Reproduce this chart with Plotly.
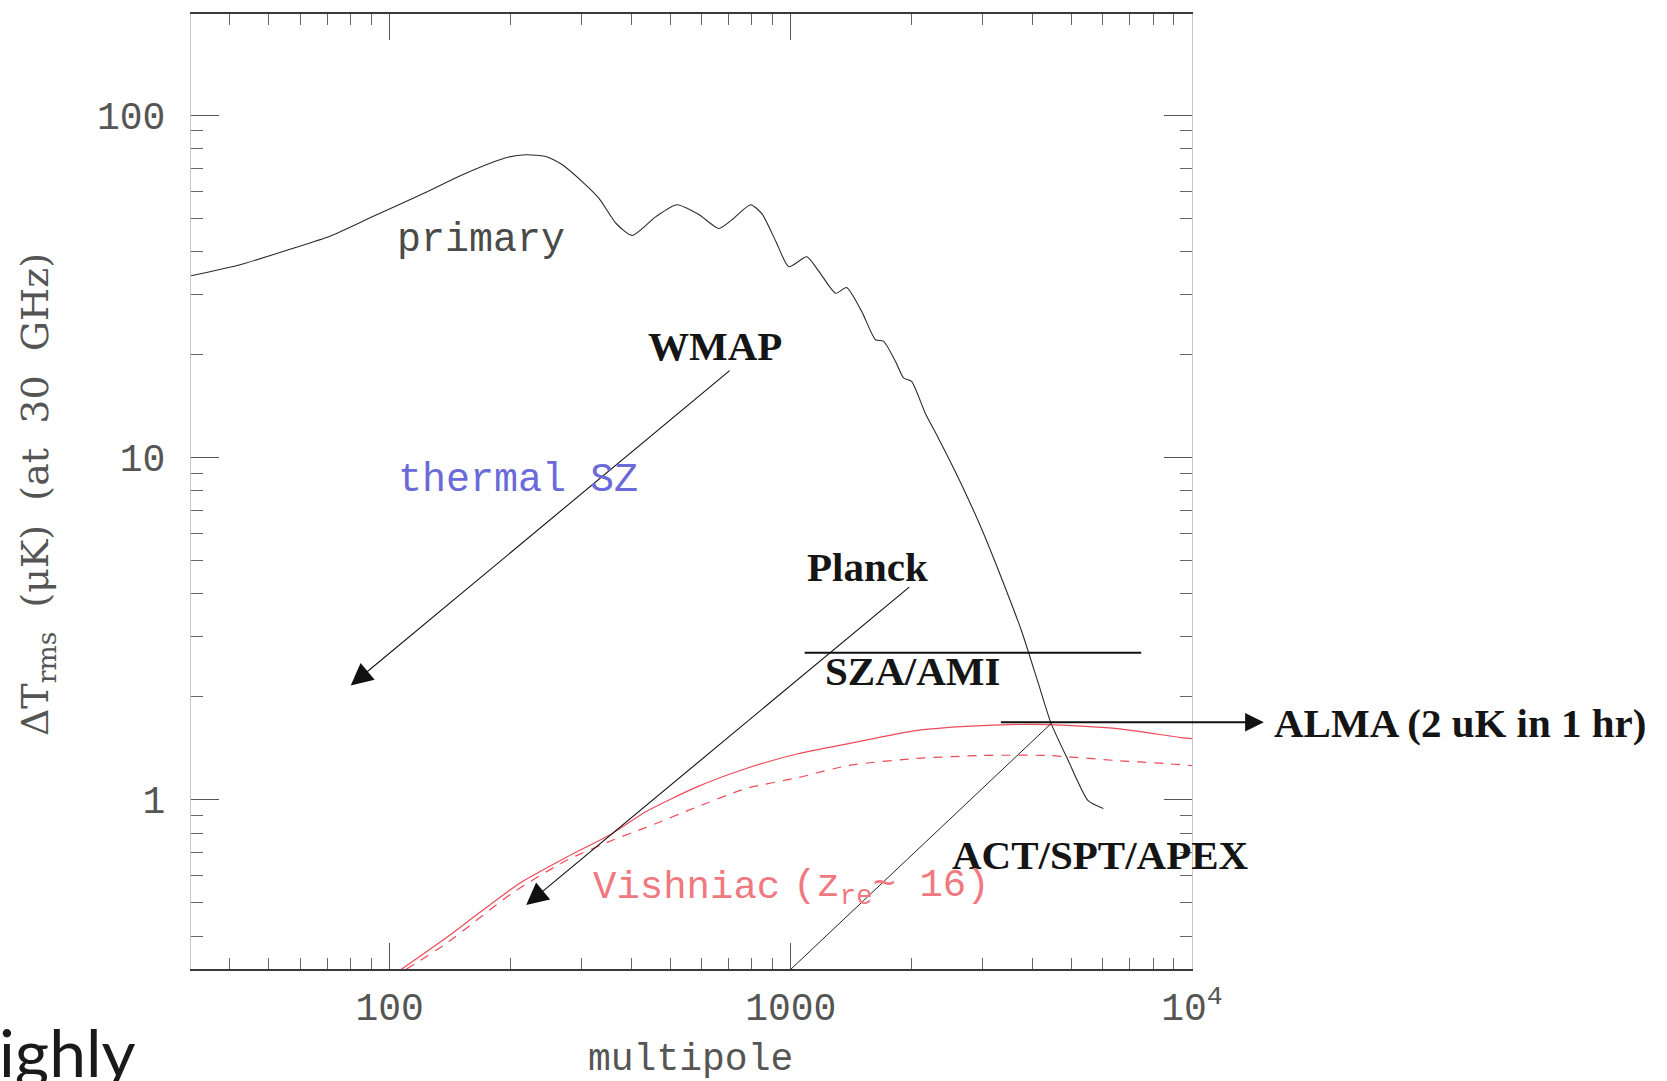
import numpy as np
import plotly.graph_objects as go

# ---------------- data ----------------
# primary CMB anisotropy (multipole, Delta T in uK)
primary_ell = [32, 42.4, 56.4, 71.0, 90.8, 121, 152, 195, 219, 246, 269, 302, 333, 367, 402,
               461, 520, 590, 662, 713, 794, 847, 918, 989, 1096, 1175, 1294, 1377, 1503, 1626,
               1702, 1824, 1910, 2000, 2168, 2333, 2618, 2985, 3350, 3758, 4140, 4457, 4920, 5508, 6012]
primary_T = [34.0, 36.6, 40.6, 44.3, 50.6, 59.0, 67.1, 75.2, 76.7, 75.7, 71.8, 64.0, 57.1, 48.3, 44.6,
             50.6, 54.8, 51.3, 46.7, 49.5, 54.8, 51.6, 42.8, 36.1, 38.6, 35.0, 30.2, 31.4, 26.7, 22.1,
             21.9, 19.1, 17.1, 16.7, 13.4, 11.4, 8.71, 6.22, 4.45, 3.12, 2.19, 1.67, 1.30, 0.995, 0.944]

# Vishniac effect (z_re ~ 16), solid and dashed
vish_ell = [107, 139, 167, 211, 276, 359, 436, 580, 774, 1047, 1394, 2045, 2987, 4385, 6430, 9397, 10000]
vish_T = [0.32, 0.397, 0.467, 0.571, 0.680, 0.798, 0.925, 1.088, 1.235, 1.366, 1.461, 1.594, 1.649, 1.66,
          1.617, 1.521, 1.51]
vish2_ell = [110, 139, 202, 276, 359, 436, 580, 774, 1047, 1394, 2045, 2987, 4385, 6430, 8570, 10000]
vish2_T = [0.32, 0.382, 0.534, 0.666, 0.762, 0.831, 0.951, 1.080, 1.163, 1.261, 1.321, 1.348, 1.348,
           1.304, 1.277, 1.26]

# experiment sensitivity lines / arrows (multipole, uK)
sza_ell = [1083, 7470]
sza_T = [2.69, 2.69]
act_ell = [1000, 4490]
act_T = [0.32, 1.686]
wmap_arrow_ell = [710, 80]      # tail, head
wmap_arrow_T = [18.1, 2.16]
planck_arrow_ell = [1990, 219]
planck_arrow_T = [4.22, 0.493]
alma_arrow_ell = [3310, 15100]
alma_arrow_T = [1.686, 1.686]

x_major = [100, 1000, 10000]
x_major_text = ["100", "1000", "10<sup>4</sup>"]
x_minor = [40, 50, 60, 70, 80, 90, 200, 300, 400, 500, 600, 700, 800, 900,
           2000, 3000, 4000, 5000, 6000, 7000, 8000, 9000]
y_major = [1, 10, 100]
y_major_text = ["1", "10", "100"]
y_minor = [0.4, 0.5, 0.6, 0.7, 0.8, 0.9, 2, 3, 4, 5, 6, 7, 8, 9,
           20, 30, 40, 50, 60, 70, 80, 90, 200]

lg = np.log10

fig = go.Figure()
fig.add_trace(go.Scatter(x=primary_ell, y=primary_T, mode="lines",
                         line=dict(color="#2a2a2a", width=1.1, shape="spline", smoothing=0.6),
                         showlegend=False))
fig.add_trace(go.Scatter(x=vish_ell, y=vish_T, mode="lines",
                         line=dict(color="#ec4a5a", width=1.2, shape="spline", smoothing=0.6),
                         showlegend=False))
fig.add_trace(go.Scatter(x=vish2_ell, y=vish2_T, mode="lines",
                         line=dict(color="#ec4a5a", width=1.2, dash="9px,8px", shape="spline", smoothing=0.6),
                         showlegend=False))
fig.add_trace(go.Scatter(x=sza_ell, y=sza_T, mode="lines",
                         line=dict(color="#111111", width=2), showlegend=False))
fig.add_trace(go.Scatter(x=act_ell, y=act_T, mode="lines",
                         line=dict(color="#222222", width=1), showlegend=False))

annotations = []


def arrow(ells, Ts, width, size):
    annotations.append(dict(
        x=lg(ells[1]), y=lg(Ts[1]), ax=lg(ells[0]), ay=lg(Ts[0]),
        xref="x", yref="y", axref="x", ayref="y", text="", showarrow=True,
        arrowhead=2, arrowsize=size, arrowwidth=width, arrowcolor="#111111", standoff=0))


arrow(wmap_arrow_ell, wmap_arrow_T, 1.1, 4.0)
arrow(planck_arrow_ell, planck_arrow_T, 1.1, 4.0)
arrow(alma_arrow_ell, alma_arrow_T, 2.2, 1.7)

bold = dict(family="Liberation Serif", size=41, color="#151515")
hersh = dict(family="Liberation Mono", size=40)


def label(text, ell, T, font, xanchor="center"):
    annotations.append(dict(x=lg(ell), y=lg(T), xref="x", yref="y", text=text, showarrow=False,
                            font=font, xanchor=xanchor, yanchor="middle"))


label("<b>WMAP</b>", 10 ** 2.811, 10 ** 1.325, bold)
label("<b>Planck</b>", 10 ** 3.192, 10 ** 0.681, bold)
label("<b>SZA/AMI</b>", 10 ** 3.303, 10 ** 0.378, bold)
label("<b>ACT/SPT/APEX</b>", 10 ** 3.771, 10 ** -0.162, bold)
label("primary", 10 ** 2.229, 10 ** 1.635, dict(hersh, color="#4a4a4a"))
label("thermal SZ", 10 ** 2.321, 10 ** 0.934, dict(hersh, color="#6a6ad8"))
label("Vishniac", 10 ** 2.502, 10 ** -0.258, dict(hersh, size=39, color="#f07880"), xanchor="left")
label("(z<sub>re</sub>~ 16)", 10 ** 3.0, 10 ** -0.258, dict(hersh, size=39, color="#f07880"), xanchor="left")

# ALMA label sits right of the plot area
annotations.append(dict(x=1.080, y=0.258, xref="paper", yref="paper", text="<b>ALMA (2 uK in 1 hr)</b>",
                        showarrow=False, font=bold, xanchor="left", yanchor="middle"))

# axis titles
annotations.append(dict(x=0.4995, y=-0.0951, xref="paper", yref="paper", text="multipole",
                        showarrow=False, font=dict(family="Liberation Mono", size=38, color="#555555"),
                        xanchor="center", yanchor="middle"))
annotations.append(dict(x=-0.1538, y=0.4963, xref="paper", yref="paper",
                        text="\u0394T<sub>rms</sub>\u00a0 (\u03bcK)\u00a0 (at\u00a0 30\u00a0 GHz)",
                        textangle=-90, showarrow=False,
                        font=dict(family="DejaVu Serif", size=38, color="#555555"),
                        xanchor="center", yanchor="middle"))
# slide text fragment at the bottom left
annotations.append(dict(x=-0.1935, y=-0.043, xref="paper", yref="paper", text="ighly",
                        showarrow=False, font=dict(family="Lato", size=66, color="#1a1a1a"),
                        xanchor="left", yanchor="top"))

fig.update_layout(
    width=1667, height=1081, autosize=False,
    margin=dict(l=191, r=475, t=12, b=112),
    paper_bgcolor="white", plot_bgcolor="white",
    showlegend=False,
    annotations=annotations,
    xaxis=dict(type="log", range=[1.505, 4.0], showgrid=False, zeroline=False,
               showline=True, linecolor="#3a3a3a", linewidth=2, mirror="ticks",
               ticks="inside", ticklen=26, tickwidth=1.2, tickcolor="#555555",
               tickmode="array", tickvals=x_major, ticktext=x_major_text,
               tickfont=dict(family="Liberation Mono", size=38, color="#555555"),
               ticklabelstandoff=3,
               minor=dict(tickmode="array", tickvals=x_minor, ticks="inside", ticklen=11,
                          tickwidth=1, tickcolor="#666666", showgrid=False)),
    yaxis=dict(type="log", range=[-0.494, 2.296], showgrid=False, zeroline=False,
               showline=True, linecolor="#c8c8c8", linewidth=1, mirror="ticks",
               ticks="inside", ticklen=28, tickwidth=1.2, tickcolor="#555555",
               tickmode="array", tickvals=y_major, ticktext=y_major_text,
               tickfont=dict(family="Liberation Mono", size=38, color="#555555"),
               ticklabelstandoff=17,
               minor=dict(tickmode="array", tickvals=y_minor, ticks="inside", ticklen=12,
                          tickwidth=1, tickcolor="#666666", showgrid=False)),
)

fig.write_html("out.html")
